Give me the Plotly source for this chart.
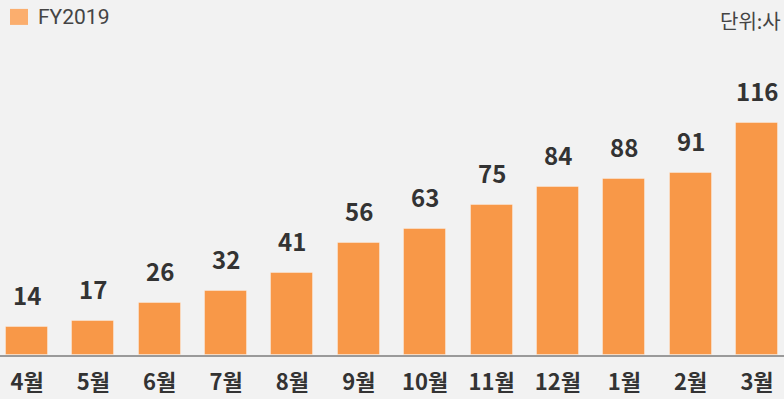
import plotly.graph_objects as go

months = ["4월", "5월", "6월", "7월", "8월", "9월", "10월", "11월", "12월", "1월", "2월", "3월"]
counts = [14, 17, 26, 32, 41, 56, 63, 75, 84, 88, 91, 116]
series_name = "FY2019"
unit_label = "단위:사"

BAR = "#F89848"
LEGEND_SWATCH = "#FBAE6E"
TEXT = "#333333"
BG = "#F2F2F2"
FONT = "Noto Sans CJK KR"

x = list(range(len(months)))

fig = go.Figure()
fig.add_trace(go.Bar(
    x=x, y=counts, name=series_name,
    width=0.633,
    marker=dict(color=BAR, line=dict(color="rgba(255,255,255,0.35)", width=1)),
    showlegend=False,
    hoverinfo="skip",
))

# value labels above each bar
for xi, v in zip(x, counts):
    fig.add_annotation(
        x=xi, y=v, xref="x", yref="y", text=f"<b>{v}</b>",
        showarrow=False, yanchor="bottom", yshift=13,
        font=dict(family=FONT, size=24, color=TEXT),
    )

# legend swatch and label
fig.add_shape(type="rect", xref="paper", yref="paper",
              x0=10 / 784, x1=28 / 784, y0=1 - 28 / 399, y1=1 - 10 / 399,
              fillcolor=LEGEND_SWATCH, line=dict(width=0))
fig.add_annotation(x=36 / 784, y=1 - 19 / 399, xref="paper", yref="paper",
                   text=series_name, showarrow=False, xanchor="left", yanchor="middle",
                   font=dict(family="Roboto", size=21, color="#444444"))
fig.add_annotation(x=783 / 784, y=1 - 23 / 399, xref="paper", yref="paper",
                   text=unit_label, showarrow=False, xanchor="right", yanchor="middle",
                   font=dict(family=FONT, size=20, color="#444444"))

fig.update_layout(
    width=784, height=399,
    margin=dict(l=0, r=0, t=0, b=44),
    paper_bgcolor=BG, plot_bgcolor=BG,
    xaxis=dict(
        range=[-0.407, 11.407], tickvals=x, ticktext=[f"<b>{m}</b>" for m in months],
        showline=True, linecolor="#9A9A9A", linewidth=2,
        showgrid=False, zeroline=False, ticks="", ticklabelstandoff=7,
        tickfont=dict(family=FONT, size=22, color=TEXT), fixedrange=True,
        automargin=False,
    ),
    yaxis=dict(range=[0, 177.5], visible=False, showgrid=False, zeroline=False,
               fixedrange=True, automargin=False),
    bargap=0,
)

fig.write_html("out.html", config={"displayModeBar": False})
